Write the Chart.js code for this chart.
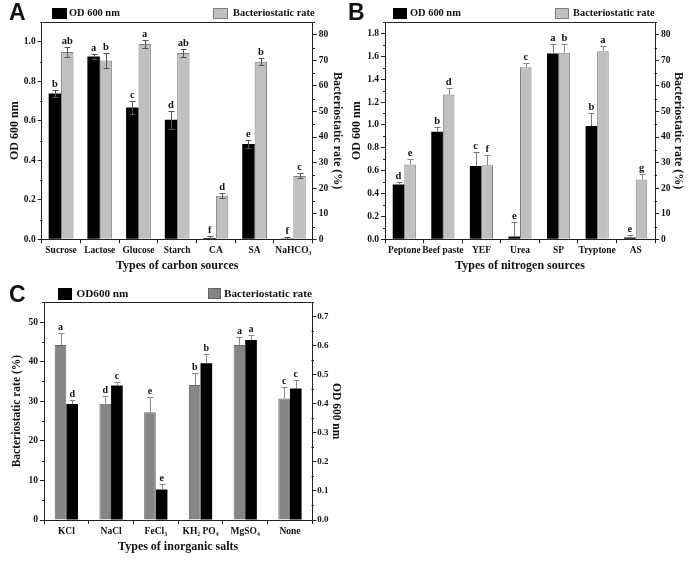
<!DOCTYPE html>
<html><head><meta charset="utf-8">
<script src="https://cdn.jsdelivr.net/npm/chart.js@4.4.1/dist/chart.umd.min.js"></script>
<style>
html,body{margin:0;padding:0;background:#fff;}
body{width:690px;height:563px;position:relative;overflow:hidden;font-family:"Liberation Serif","Times New Roman",serif;color:#111;}
.panel{position:absolute;}
.panel canvas{position:absolute;left:0;top:0;}
.letter{position:absolute;font-family:"Liberation Sans",Arial,sans-serif;font-weight:bold;font-size:23px;line-height:23px;color:#111;}
.sw{position:absolute;box-sizing:border-box;}
.lt{position:absolute;font-weight:bold;white-space:nowrap;}
</style></head><body>
<div class="panel" style="left:0;top:0;width:345px;height:280px"><canvas id="cA" width="345" height="280"></canvas></div>
<div class="panel" style="left:345px;top:0;width:345px;height:280px"><canvas id="cB" width="345" height="280"></canvas></div>
<div class="panel" style="left:0;top:280px;width:345px;height:283px"><canvas id="cC" width="345" height="283"></canvas></div>
<div id="overlay"></div>
<script>
// ---------- DATA ----------
const odLabel = 'OD 600 nm';
const odLabelC = 'OD600 nm';
const rateLabel = 'Bacteriostatic rate';

// Panel A: carbon sources
const carbonSources = ['Sucrose','Lactose','Glucose','Starch','CA','SA','NaHCO\u2083'];
const carbonOD = [0.738, 0.925, 0.667, 0.605, 0.006, 0.482, 0.004];
const carbonODErr = [0.020, 0.012, 0.032, 0.046, 0.009, 0.020, 0.010];
const carbonODLetters = ['b','a','c','d','f','e','f'];
const carbonRate = [73.3, 69.9, 76.4, 72.9, 17.0, 69.5, 24.8];
const carbonRateErr = [1.8, 3.0, 1.6, 1.5, 1.0, 1.3, 1.0];
const carbonRateLetters = ['ab','b','a','ab','d','b','c'];

// Panel B: nitrogen sources
const nitrogenSources = ['Peptone','Beef paste','YEF','Urea','SP','Tryptone','AS'];
const nitrogenOD = [0.48, 0.94, 0.64, 0.025, 1.625, 0.99, 0.015];
const nitrogenODErr = [0.02, 0.04, 0.12, 0.13, 0.08, 0.11, 0.02];
const nitrogenODLetters = ['d','b','c','e','a','b','e'];
const nitrogenRate = [29.3, 56.6, 29.0, 67.3, 73.0, 73.6, 23.4];
const nitrogenRateErr = [2.3, 2.7, 3.9, 1.8, 3.2, 2.0, 2.3];
const nitrogenRateLetters = ['e','d','f','c','b','a','g'];

// Panel C: inorganic salts
const salts = ['KCl','NaCl','FeCl\u2083','KH\u2082 PO\u2084','MgSO\u2084','None'];
const saltRate = [44.2, 29.4, 27.2, 34.1, 44.2, 30.7];
const saltRateErr = [3.0, 1.9, 3.9, 3.0, 2.0, 2.9];
const saltRateLetters = ['a','d','e','b','a','c'];
const saltOD = [0.400, 0.463, 0.105, 0.540, 0.620, 0.453];
const saltODErr = [0.012, 0.013, 0.018, 0.033, 0.018, 0.030];
const saltODLetters = ['d','c','e','b','a','c'];

// ---------- DRAWING ----------
const SERIF = '"Liberation Serif", "Times New Roman", serif';
const AX = '#222';

const extras = {
  id: 'extras',
  afterDatasetsDraw(chart) {
    const o = chart.options.plugins.extras;
    const ctx = chart.ctx;
    chart.data.datasets.forEach((ds, di) => {
      const meta = chart.getDatasetMeta(di);
      const sc = chart.scales[ds.yAxisID];
      meta.data.forEach((bar, i) => {
        const v = ds.data[i], e = ds.errors[i];
        const x = Math.round(bar.x) + 0.5;
        const yT = Math.round(sc.getPixelForValue(v + e)) + 0.5;
        const yB = Math.round(sc.getPixelForValue(Math.max(0, v - e))) + 0.5;
        ctx.save();
        ctx.strokeStyle = ds.errColor;
        ctx.lineWidth = 1;
        ctx.beginPath();
        ctx.moveTo(x, o.symmetric ? yB : bar.y);
        ctx.lineTo(x, yT);
        ctx.moveTo(x - o.cap, yT); ctx.lineTo(x + o.cap, yT);
        if (o.symmetric && v - e > 0) { ctx.moveTo(x - o.cap, yB); ctx.lineTo(x + o.cap, yB); }
        ctx.stroke();
        ctx.fillStyle = '#111';
        ctx.font = 'bold ' + o.letterSize + 'px ' + SERIF;
        ctx.textAlign = 'center';
        ctx.textBaseline = 'alphabetic';
        ctx.fillText(ds.letters[i], bar.x, yT - 4);
        ctx.restore();
      });
    });
  },
  afterDraw(chart) {
    const o = chart.options.plugins.extras;
    const ctx = chart.ctx;
    const a = chart.chartArea;
    ctx.save();
    ctx.strokeStyle = AX;
    ctx.lineWidth = 1;
    const l = Math.round(a.left) + 0.5, r = Math.round(a.right) - 0.5, t = Math.round(a.top) + 0.5;
    ctx.beginPath();
    ctx.moveTo(l, t); ctx.lineTo(r, t);
    ctx.stroke();
    // minor ticks between the labelled ticks
    ['y', 'y1'].forEach(id => {
      const sc = chart.scales[id];
      const step = o.minor[id];
      const major = sc.options.ticks.stepSize;
      ctx.beginPath();
      for (let k = 1; k * step <= sc.max + 1e-9; k++) {
        const val = k * step;
        if (Math.abs(val / major - Math.round(val / major)) < 1e-6) continue;
        const py = Math.round(sc.getPixelForValue(val)) + 0.5;
        if (sc.position === 'left') { ctx.moveTo(l - 2.5, py); ctx.lineTo(l, py); }
        else { ctx.moveTo(r, py); ctx.lineTo(r + 2.5, py); }
      }
      ctx.stroke();
    });
    ctx.restore();
  }
};

function yAxis(pos, max, step, dec, width, title, titlePad, tickSize, tickPad, titleSize) {
  return {
    position: pos, min: 0, max: max,
    grid: { drawOnChartArea: false, tickLength: 4, color: AX },
    border: { color: AX, width: 1 },
    ticks: { stepSize: step, includeBounds: false, padding: tickPad, color: '#111',
      font: { family: SERIF, weight: 'bold', size: tickSize },
      callback: v => Number(v).toFixed(dec) },
    title: { display: true, text: title, color: '#111',
      font: { family: SERIF, weight: 'bold', size: titleSize }, padding: { top: titlePad, bottom: 0 } },
    afterFit(s) { s.width = width; }
  };
}

function makePanel(id, p) {
  new Chart(document.getElementById(id), {
    type: 'bar',
    data: { labels: p.labels, datasets: p.datasets },
    options: {
      responsive: false, animation: false, devicePixelRatio: 1,
      layout: { padding: { top: p.top, left: 0, right: 0, bottom: 0 } },
      datasets: { bar: { categoryPercentage: p.catPct, barPercentage: 1.0 } },
      plugins: { legend: { display: false }, tooltip: { enabled: false },
        extras: { minor: p.minor, symmetric: p.symmetric, cap: p.cap, letterSize: p.letterSize } },
      scales: {
        x: {
          grid: { drawOnChartArea: false, tickLength: 4, color: AX, offset: true },
          border: { color: AX, width: 1 },
          ticks: { autoSkip: false, maxRotation: 0, padding: 2, color: '#111',
            font: { family: SERIF, weight: 'bold', size: p.xTickSize } },
          title: { display: true, text: p.xTitle, color: '#111',
            font: { family: SERIF, weight: 'bold', size: p.xTitleSize }, padding: { top: 0, bottom: p.xTitlePad } },
          afterFit(s) { s.height = p.xHeight; }
        },
        y: p.y,
        y1: p.y1
      }
    },
    plugins: [extras]
  });
}

const greyAB = '#c0c0c0', greyEdge = '#808080';

makePanel('cA', {
  labels: carbonSources, top: 22, catPct: 0.64, cap: 3, symmetric: true, letterSize: 10.5,
  xTitle: 'Types of carbon sources', xTitleSize: 12, xTitlePad: 7, xTickSize: 9.5, xHeight: 40.7,
  minor: { y: 0.1, y1: 5 },
  y: yAxis('left', 1.1, 0.2, 1, 41.7, odLabel, 8, 9.5, 2, 12),
  y1: yAxis('right', 85, 10, 0, 32.3, 'Bacteriostatic rate (%)', 1, 9.5, 2, 12),
  datasets: [
    { label: odLabel, data: carbonOD, errors: carbonODErr, letters: carbonODLetters, yAxisID: 'y',
      backgroundColor: '#000', borderWidth: 0, errColor: '#555' },
    { label: rateLabel, data: carbonRate, errors: carbonRateErr, letters: carbonRateLetters, yAxisID: 'y1',
      backgroundColor: greyAB, borderColor: greyEdge, borderWidth: 1, errColor: '#555' }
  ]
});

makePanel('cB', {
  labels: nitrogenSources, top: 22, catPct: 0.6, cap: 3, symmetric: false, letterSize: 10.5,
  xTitle: 'Types of nitrogen sources', xTitleSize: 12, xTitlePad: 7, xTickSize: 9.5, xHeight: 40.7,
  minor: { y: 0.1, y1: 5 },
  y: yAxis('left', 1.9, 0.2, 1, 40, odLabel, 5, 9.5, 2, 12),
  y1: yAxis('right', 85, 10, 0, 35, 'Bacteriostatic rate (%)', 5, 9.5, 2, 12),
  datasets: [
    { label: odLabel, data: nitrogenOD, errors: nitrogenODErr, letters: nitrogenODLetters, yAxisID: 'y',
      backgroundColor: '#000', borderWidth: 0, errColor: '#777' },
    { label: rateLabel, data: nitrogenRate, errors: nitrogenRateErr, letters: nitrogenRateLetters, yAxisID: 'y1',
      backgroundColor: greyAB, borderColor: greyEdge, borderWidth: 1, errColor: '#888' }
  ]
});

makePanel('cC', {
  labels: salts, top: 22.3, catPct: 0.52, cap: 3, symmetric: false, letterSize: 10,
  xTitle: 'Types of inorganic salts', xTitleSize: 12, xTitlePad: 9, xTickSize: 9.5, xHeight: 43,
  minor: { y: 5, y1: 0.05 },
  y: yAxis('left', 55, 10, 0, 44, 'Bacteriostatic rate (%)', 10.5, 9.5, 2, 11.5),
  y1: yAxis('right', 0.75, 0.1, 1, 32.7, 'OD 600 nm', 2, 9, 1, 11.5),
  datasets: [
    { label: rateLabel, data: saltRate, errors: saltRateErr, letters: saltRateLetters, yAxisID: 'y',
      backgroundColor: '#858585', borderColor: '#666', borderWidth: 1, errColor: '#8a8a8a' },
    { label: odLabelC, data: saltOD, errors: saltODErr, letters: saltODLetters, yAxisID: 'y1',
      backgroundColor: '#000', borderWidth: 0, errColor: '#8a8a8a' }
  ]
});

// ---------- panel letters & legends (HTML text) ----------
const ov = document.getElementById('overlay');
function addLetter(t, x, y) {
  const d = document.createElement('div'); d.className = 'letter'; d.textContent = t;
  d.style.left = x + 'px'; d.style.top = y + 'px'; ov.appendChild(d);
}
function addLegend(text, sx, sy, sw, sh, fill, edge, tx, fs) {
  const s = document.createElement('div'); s.className = 'sw';
  s.style.cssText += `left:${sx}px;top:${sy}px;width:${sw}px;height:${sh}px;background:${fill};` + (edge ? `border:1px solid ${edge};` : '');
  ov.appendChild(s);
  const t = document.createElement('div'); t.className = 'lt'; t.textContent = text;
  t.style.cssText += `left:${tx}px;top:${sy + sh / 2 - fs * 0.62}px;font-size:${fs}px;line-height:${fs * 1.2}px;`;
  ov.appendChild(t);
}
addLetter('A', 9, 1);
addLetter('B', 348, 1);
addLetter('C', 9, 283);
addLegend(odLabel, 52, 8, 15, 10.5, '#000', null, 69, 10.4);
addLegend(rateLabel, 213, 8, 15, 10.5, greyAB, greyEdge, 233, 10.4);
addLegend(odLabel, 393, 7.5, 14, 11, '#000', null, 410, 10.4);
addLegend(rateLabel, 555, 7.5, 14, 11, greyAB, greyEdge, 573, 10.4);
addLegend(odLabelC, 58, 288, 14, 12, '#000', null, 76.5, 11.2);
addLegend(rateLabel, 208, 288, 13, 11, '#858585', '#666', 224, 11.2);
</script>
</body></html>
